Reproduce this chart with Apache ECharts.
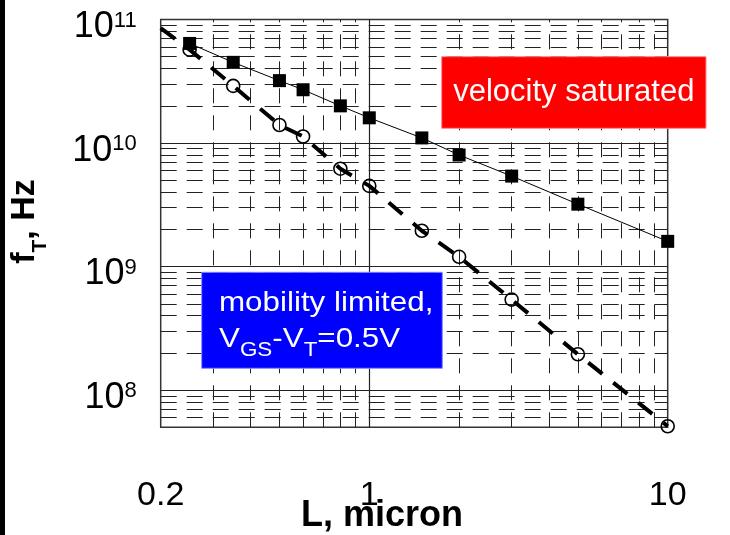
<!DOCTYPE html>
<html><head><meta charset="utf-8">
<script src="https://cdn.jsdelivr.net/npm/echarts@6/dist/echarts.min.js"></script>
<style>html,body{margin:0;padding:0;background:#fff}#c{width:730px;height:535px}</style>
</head><body><div id="c"></div>
<script>
// ---- data ----
const lengthsSat = [0.25, 0.35, 0.5, 0.6, 0.8, 1, 1.5, 2, 3, 5, 10];
const fTSat = [6.4e10, 4.5e10, 3.2e10, 2.7e10, 2.0e10, 1.6e10, 1.1e10, 8.0e9, 5.4e9, 3.2e9, 1.6e9];
const lengthsMob = [0.25, 0.35, 0.5, 0.6, 0.8, 1, 1.5, 2, 3, 5, 10];
const fTMob = [5.7e10, 2.9e10, 1.4e10, 1.13e10, 6.2e9, 4.5e9, 1.95e9, 1.2e9, 5.4e8, 1.95e8, 5.1e7];
const mobLineStart = [0.2, 8.5e10];
const xRange = [0.2, 10];
const yRange = [5e7, 1e11];
const xMajor = [1];
const xMinor = [0.3, 0.4, 0.5, 0.6, 0.7, 0.8, 0.9, 2, 3, 4, 5, 6, 7, 8, 9];
const yMajor = [1e8, 1e9, 1e10];
const yMinor = [6e7, 7e7, 8e7, 9e7,
  2e8, 3e8, 4e8, 5e8, 6e8, 7e8, 8e8, 9e8,
  2e9, 3e9, 4e9, 5e9, 6e9, 7e9, 8e9, 9e9,
  2e10, 3e10, 4e10, 5e10, 6e10, 7e10, 8e10, 9e10];
const xTitle = 'L, micron';
const velText = 'velocity saturated';
const mobText1 = 'mobility limited,';

const zip = (a, b) => a.map((v, i) => [v, b[i]]);
const FONT = 'Liberation Sans, Arial, Helvetica, sans-serif';

const hDash = { type: [16, 10], color: '#222', width: 1 };
const vDash = { type: [15, 12], color: '#222', width: 1 };
const solid = { type: 'solid', color: '#222', width: 1.2 };

const gridLines = [].concat(
  xMinor.map(v => ({ xAxis: v, lineStyle: vDash })),
  yMinor.map(v => ({ yAxis: v, lineStyle: hDash })),
  xMajor.map(v => ({ xAxis: v, lineStyle: solid })),
  yMajor.map(v => ({ yAxis: v, lineStyle: solid }))
);

const chart = echarts.init(document.getElementById('c'), null, { renderer: 'canvas' });
chart.setOption({
  animation: false,
  backgroundColor: '#fff',
  grid: {
    left: 160.7, top: 19.5, width: 507, height: 407.8,
    show: true, borderColor: '#333', borderWidth: 1.5, backgroundColor: 'transparent',
    containLabel: false, outerBoundsMode: 'none'
  },
  xAxis: {
    type: 'log', logBase: 10, min: xRange[0], max: xRange[1],
    axisLine: { show: false }, axisTick: { show: false },
    splitLine: { show: false }, minorSplitLine: { show: false },
    axisLabel: {
      margin: 51, fontSize: 34, fontFamily: FONT, color: '#000',
      formatter: v => String(+(+v).toPrecision(6))
    }
  },
  yAxis: {
    type: 'log', logBase: 10, min: yRange[0], max: yRange[1],
    axisLine: { show: false }, axisTick: { show: false },
    splitLine: { show: false }, minorSplitLine: { show: false },
    axisLabel: {
      margin: 24, padding: [16, 0, 0, 0],
      formatter: v => {
        const e = Math.log10(v); const r = Math.round(e);
        if (Math.abs(e - r) > 1e-6) return '';
        return '{b|10}{s|' + r + '}';
      },
      rich: {
        b: { fontSize: 36, lineHeight: 36, fontFamily: FONT, color: '#000' },
        s: { fontSize: 22, lineHeight: 19, verticalAlign: 'top', fontFamily: FONT, color: '#000' }
      }
    }
  },
  series: [
    {
      name: 'grid', type: 'line', data: [], z: 1, silent: true,
      markLine: {
        z: 1, silent: true, symbol: ['none', 'none'], label: { show: false },
        emphasis: { disabled: true }, animation: false,
        data: gridLines
      }
    },
    {
      name: 'mobility fit', type: 'line', z: 3,
      data: [mobLineStart].concat(zip(lengthsMob, fTMob)),
      symbol: 'none', silent: true,
      lineStyle: { color: '#000', width: 4, type: [18, 14], cap: 'butt' }
    },
    {
      name: 'velocity saturated', type: 'line', z: 4,
      data: zip(lengthsSat, fTSat),
      symbol: 'rect', symbolSize: 13, showSymbol: true,
      itemStyle: { color: '#000' },
      lineStyle: { color: '#000', width: 1 }
    },
    {
      name: 'mobility limited', type: 'scatter', z: 5,
      data: zip(lengthsMob, fTMob),
      symbol: 'circle', symbolSize: 13,
      itemStyle: { color: 'rgba(0,0,0,0)', borderColor: '#000', borderWidth: 1.6, opacity: 1 }
    }
  ],
  graphic: {
    z: 100,
    elements: [
      { type: 'rect', z: 100, shape: { x: 0, y: 0, width: 5, height: 535 }, style: { fill: '#000' } },
      { type: 'rect', z: 100, shape: { x: 441.7, y: 56.7, width: 264.3, height: 71.6 }, style: { fill: '#ff0000', stroke: '#ff8a8a', lineWidth: 1 } },
      { type: 'text', z: 101, x: 573.8, y: 92.3, style: { text: velText, fill: '#fff', font: '31px ' + FONT, textAlign: 'center', textVerticalAlign: 'middle' } },
      { type: 'rect', z: 100, shape: { x: 201.7, y: 272.3, width: 240.6, height: 96 }, style: { fill: '#0000ff', stroke: '#8a8aff', lineWidth: 1 } },
      { type: 'text', z: 101, x: 219, y: 303, scaleX: 1.12, style: { text: mobText1, fill: '#fff', font: '28px ' + FONT, textAlign: 'left', textVerticalAlign: 'middle' } },
      { type: 'text', z: 101, x: 219, y: 339.6, scaleX: 1.12, style: {
          text: '{v|V}{s|GS}{v|-V}{s|T}{v|=0.5V}', fill: '#fff', textAlign: 'left', textVerticalAlign: 'middle',
          rich: {
            v: { fontSize: 28, lineHeight: 42, fontFamily: FONT, fill: '#fff', color: '#fff' },
            s: { fontSize: 20, lineHeight: 20, verticalAlign: 'bottom', fontFamily: FONT, fill: '#fff', color: '#fff' }
          } } },
      { type: 'text', z: 101, x: 382, y: 515.9, style: { text: xTitle, fill: '#000', font: 'bold 36px ' + FONT, textAlign: 'center', textVerticalAlign: 'middle' } },
      { type: 'text', z: 101, x: 24.5, y: 221.5, rotation: Math.PI / 2, style: {
          text: '{m|f}{s|T}{m|, Hz}', fill: '#000', textAlign: 'center', textVerticalAlign: 'middle',
          rich: {
            m: { fontSize: 34, lineHeight: 52, fontWeight: 'bold', fontFamily: FONT, fill: '#000' },
            s: { fontSize: 21, lineHeight: 21, fontWeight: 'bold', verticalAlign: 'bottom', fontFamily: FONT, fill: '#000' }
          } } }
    ]
  }
});
</script></body></html>
